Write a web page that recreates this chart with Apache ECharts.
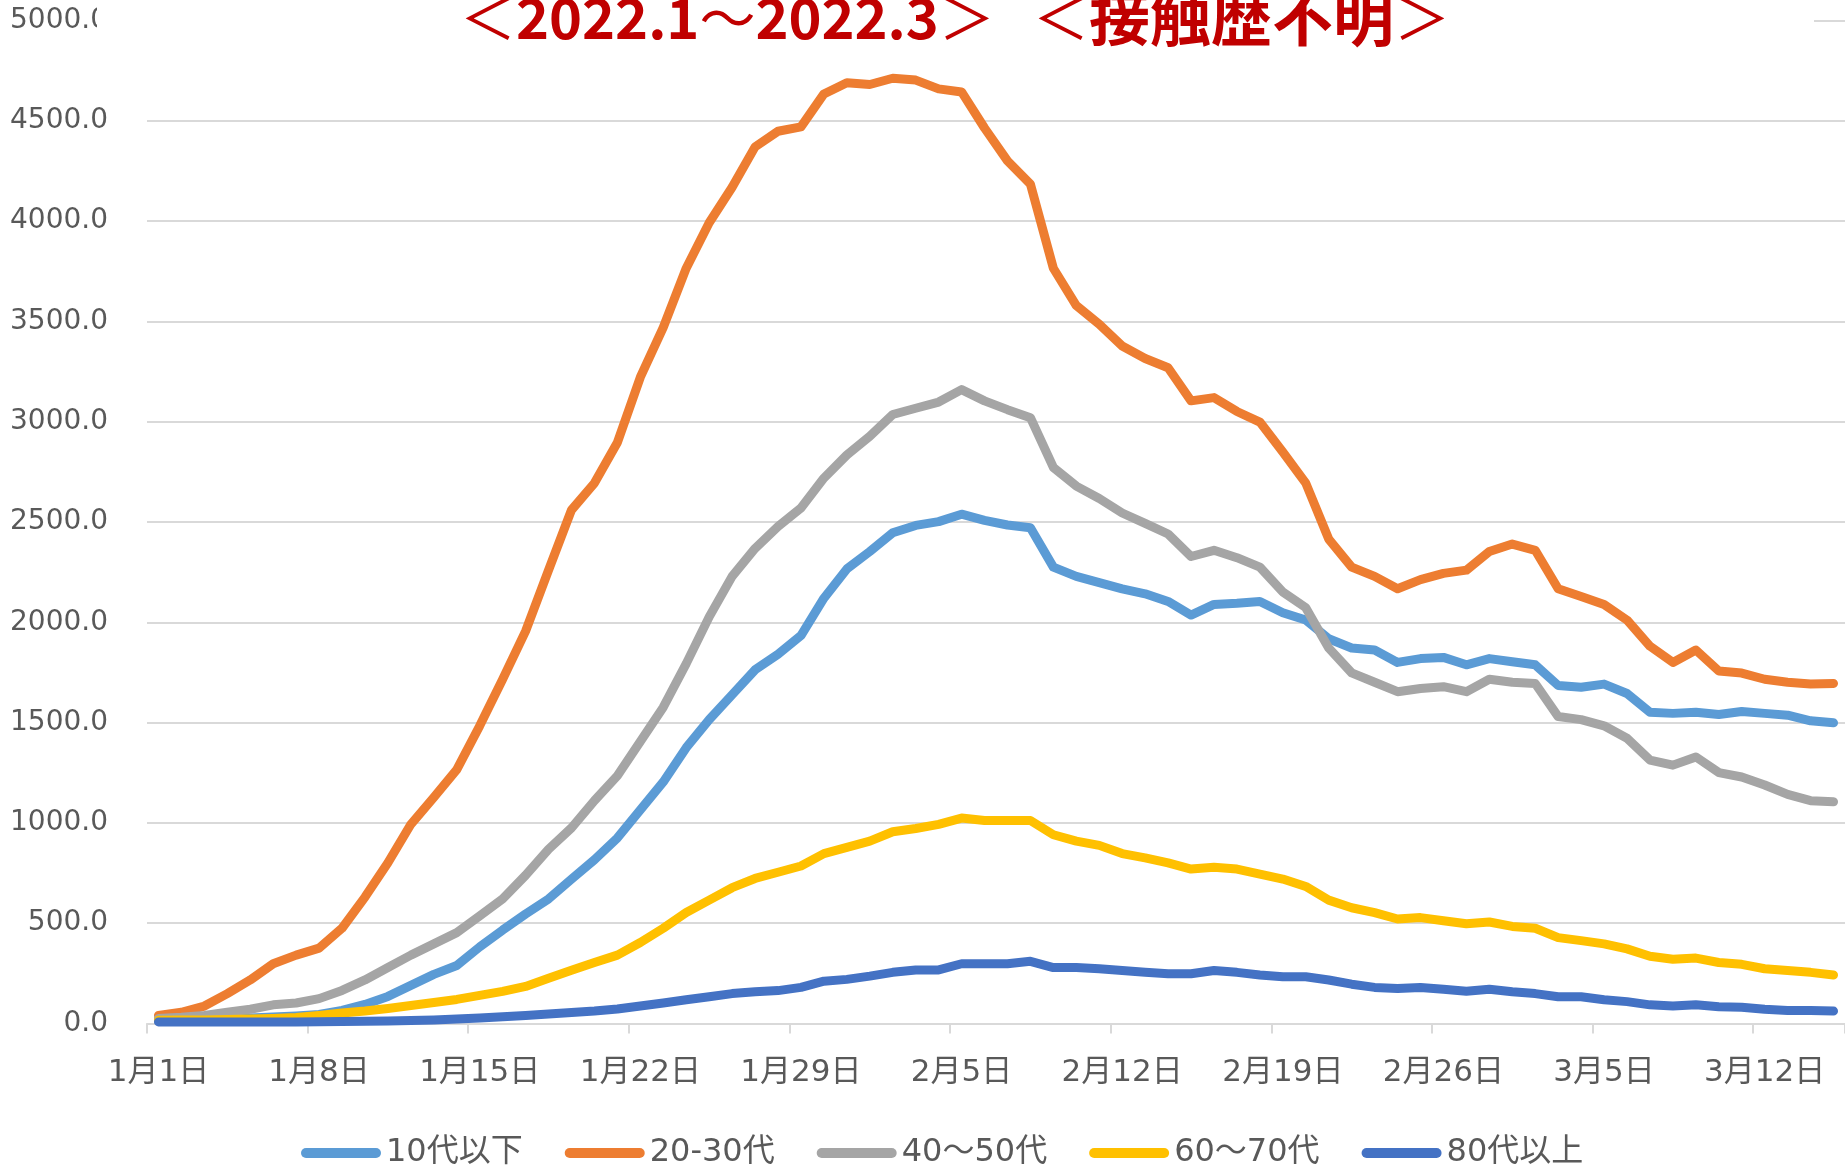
<!DOCTYPE html>
<html>
<head>
<meta charset="utf-8">
<script src="https://cdn.jsdelivr.net/npm/echarts@6/dist/echarts.min.js"></script>
<style>
html,body{margin:0;padding:0;background:#fff;}
#chart{width:1845px;height:1167px;}
</style>
</head>
<body>
<div id="chart"></div>
<script>
const categories = [
 '1月1日','1月2日','1月3日','1月4日','1月5日','1月6日','1月7日','1月8日','1月9日','1月10日',
 '1月11日','1月12日','1月13日','1月14日','1月15日','1月16日','1月17日','1月18日','1月19日','1月20日',
 '1月21日','1月22日','1月23日','1月24日','1月25日','1月26日','1月27日','1月28日','1月29日','1月30日','1月31日',
 '2月1日','2月2日','2月3日','2月4日','2月5日','2月6日','2月7日','2月8日','2月9日','2月10日',
 '2月11日','2月12日','2月13日','2月14日','2月15日','2月16日','2月17日','2月18日','2月19日','2月20日',
 '2月21日','2月22日','2月23日','2月24日','2月25日','2月26日','2月27日','2月28日',
 '3月1日','3月2日','3月3日','3月4日','3月5日','3月6日','3月7日','3月8日','3月9日','3月10日',
 '3月11日','3月12日','3月13日','3月14日','3月15日'
];

const seriesNames = ['10代以下','20-30代','40～50代','60～70代','80代以上'];

const teens = [19,20,22,25,28,32,38,45,65,95,135,190,245,289,382,466,546,621,720,816,
 925,1065,1204,1375,1515,1639,1763,1841,1934,2120,2266,2353,2446,2483,2502,2539,2508,2485,2471,2275,
 2229,2198,2167,2142,2104,2036,2089,2095,2104,2048,2011,1918,1872,1862,1800,1819,1825,1788,1819,1803,
 1788,1685,1676,1692,1645,1552,1546,1552,1540,1555,1546,1537,1509,1499];

const age20_30 = [40,56,87,149,217,298,341,376,475,630,801,993,1127,1266,1484,1716,1956,2260,2560,2694,
 2896,3222,3470,3765,3992,4169,4370,4448,4470,4634,4690,4681,4712,4703,4659,4644,4464,4300,4184,3765,
 3579,3486,3377,3315,3269,3104,3120,3051,2998,2849,2694,2415,2275,2229,2167,2213,2244,2260,2353,2390,
 2359,2167,2129,2089,2011,1881,1800,1862,1757,1747,1716,1701,1692,1695];

const age40_50 = [25,31,40,56,71,93,102,124,165,217,279,341,397,453,537,621,739,869,975,1111,
 1235,1406,1577,1794,2027,2229,2368,2477,2570,2719,2834,2927,3036,3067,3098,3160,3104,3060,3020,2772,
 2679,2617,2545,2493,2440,2328,2359,2322,2275,2151,2073,1872,1748,1701,1654,1670,1679,1654,1716,1701,
 1695,1530,1515,1484,1422,1313,1288,1329,1251,1229,1189,1142,1111,1105];

const age60_70 = [16,17,18,20,22,25,30,40,52,62,75,90,105,120,140,160,185,225,265,304,
 341,404,475,553,615,677,723,754,785,847,878,909,956,972,993,1024,1012,1012,1012,941,
 909,888,847,826,801,770,779,770,745,720,683,615,577,553,521,528,512,497,506,484,
 475,428,413,397,372,335,320,326,304,295,273,264,255,242];

const age80plus = [8,8,8,8,8,8,8,9,10,11,13,15,18,22,28,34,40,47,55,62,
 72,87,102,118,133,149,158,164,180,211,220,236,255,267,267,298,298,298,310,279,
 279,273,264,255,248,248,264,255,242,233,233,217,196,180,174,180,171,161,171,158,
 149,133,133,118,109,93,87,93,84,81,71,65,65,62];

const colors = ['#5B9BD5','#ED7D31','#A5A5A5','#FFC000','#4472C4'];
const allData = [teens, age20_30, age40_50, age60_70, age80plus];

const chart = echarts.init(document.getElementById('chart'), null, {renderer:'canvas'});
const labelColor = '#595959';
const gridColor = '#D9D9D9';
const numFont = '"DejaVu Sans", "Noto Sans CJK JP", sans-serif';
const cjkFont = '"Noto Sans CJK JP", sans-serif';

const option = {
  animation: false,
  backgroundColor: '#ffffff',
  title: {
    text: '{n|＜}2022.1{n|～}2022.3{n|＞}   {n|＜}{k|接触歴不明}{n|＞}',
    left: 455,
    top: -18,
    z: 101,
    textStyle: {
      fontFamily: cjkFont,
      fontSize: 56,
      fontWeight: 'bold',
      color: '#C00000',
      rich: {
        n: {fontFamily: cjkFont, fontSize: 56, fontWeight: 'normal', color: '#C00000'},
        k: {fontFamily: cjkFont, fontSize: 61, fontWeight: 'bold', color: '#C00000'}
      }
    }
  },
  graphic: [{
    type: 'rect', z: 100,
    shape: {x: 97, y: 0, width: 1717, height: 52},
    style: {fill: '#ffffff'}
  }],
  legend: {
    data: seriesNames,
    left: 296,
    top: 1132,
    itemWidth: 80,
    itemHeight: 10,
    itemGap: 42,
    icon: 'path://M5,0 L75,0 A5,5 0 0 1 75,10 L5,10 A5,5 0 0 1 5,0 Z',
    textStyle: {fontFamily: numFont, fontSize: 32, color: labelColor}
  },
  grid: {left: 147, right: -2, top: 20.5, bottom: 143.5, containLabel: false},
  xAxis: {
    type: 'category',
    data: categories,
    boundaryGap: true,
    axisLine: {lineStyle: {color: gridColor, width: 2}},
    axisTick: {show: true, interval: 6, alignWithLabel: false, length: 10, lineStyle: {color: gridColor, width: 2}},
    axisLabel: {interval: 6, margin: 34, fontFamily: numFont, fontSize: 31, color: labelColor},
    splitLine: {show: false}
  },
  yAxis: {
    type: 'value',
    min: 0, max: 5000, interval: 500,
    axisLine: {show: false},
    axisTick: {show: false},
    axisLabel: {margin: 39, fontFamily: numFont, fontSize: 28, color: labelColor,
      formatter: v => v.toFixed(1)},
    splitLine: {lineStyle: {color: gridColor, width: 2}}
  },
  series: seriesNames.map((name, k) => ({
    name: name,
    type: 'line',
    data: allData[k],
    symbol: 'none',
    smooth: false,
    color: colors[k],
    lineStyle: {width: 9, color: colors[k], cap: 'round', join: 'round'},
    itemStyle: {color: colors[k]}
  }))
};
chart.setOption(option);
</script>
</body>
</html>
